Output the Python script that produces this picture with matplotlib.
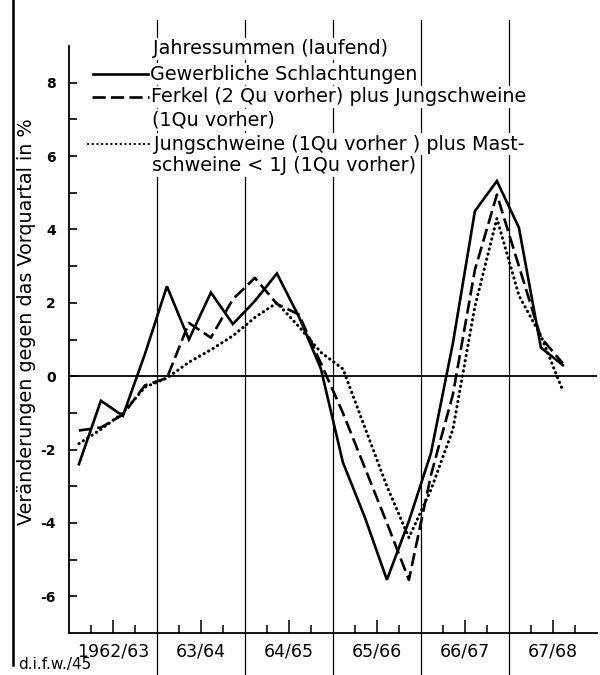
import numpy as np
import matplotlib
matplotlib.use("Agg")
import matplotlib.pyplot as plt
from matplotlib.lines import Line2D

# ---------------- data ----------------
season_labels = ["1962/63", "63/64", "64/65", "65/66", "66/67", "67/68"]
quarter_index = list(range(23))
gewerbliche = [-2.4, -0.67, -1.08, 0.6, 2.45, 1.0, 2.28, 1.42, 2.05, 2.8, 1.62, 0.2,
               -2.35, -3.85, -5.55, -3.95, -2.1, 0.9, 4.5, 5.32, 4.05, 0.78, 0.3]
ferkel = [-1.48, -1.4, -1.05, -0.25, -0.05, 1.45, 1.05, 2.1, 2.68, 1.97, 1.68, 0.35,
          -1.0, -2.5, -4.0, -5.55, -2.7, -0.5, 2.9, 4.95, 3.0, 1.05, 0.35]
jungschweine = [-1.84, -1.45, -1.0, -0.3, -0.05, 0.38, 0.72, 1.1, 1.6, 2.0, 1.35, 0.65,
                0.2, -1.4, -3.0, -4.4, -3.1, -1.45, 1.9, 4.3, 2.2, 1.1, -0.4]
y_tick_values = [-6, -4, -2, 0, 2, 4, 6, 8]
y_tick_labels = ["-6", "-4", "-2", "0", "2", "4", "6", "8"]

legend_title = "Jahressummen (laufend)"
legend_solid = "Gewerbliche Schlachtungen"
legend_dashed = ["Ferkel (2 Qu vorher) plus Jungschweine", "(1Qu vorher)"]
legend_dotted = ["Jungschweine (1Qu vorher ) plus Mast-", "schweine < 1J (1Qu vorher)"]
ylabel = "Veränderungen gegen das Vorquartal in %"
source = "d.i.f.w./45"

# ---------------- figure ----------------
W, H = 600, 675
plt.rcParams['font.family'] = ['DejaVu Sans']
fig = plt.figure(figsize=(W / 100, H / 100), dpi=100)
fig.patch.set_facecolor("white")

def fx(px):
    return px / W

def fy(py):
    return 1 - py / H

ax_left, ax_right, ax_top, ax_bottom = 69, 597, 46, 633
ax = fig.add_axes([fx(ax_left), fy(ax_bottom), fx(ax_right - ax_left), (ax_bottom - ax_top) / H])
ax.set_xlim(0, 24)
ax.set_ylim(-7, 9)
ax.set_facecolor("none")

for s in ["top", "right"]:
    ax.spines[s].set_visible(False)
for s in ["left", "bottom"]:
    ax.spines[s].set_linewidth(1.3)

# y ticks
ax.set_yticks(y_tick_values)
ax.set_yticklabels(y_tick_labels, fontsize=10, fontweight="bold")
ax.set_yticks(np.arange(-6, 9, 1), minor=True)
ax.tick_params(axis="y", which="both", direction="in", length=6, width=1.2, pad=9.5)

# x ticks: tall at mid-season, short at other quarters
year_centres = [4 * k + 2 for k in range(len(season_labels))]
ax.set_xticks(year_centres)
ax.set_xticklabels(season_labels, fontsize=12.5)
ax.set_xticks([4 * k + o for k in range(6) for o in (1, 3)], minor=True)
ax.tick_params(axis="x", which="major", direction="in", length=9.5, width=1.1, pad=7)
ax.tick_params(axis="x", which="minor", direction="in", length=6, width=1.1)

# season separator lines (extend beyond axes)
for k in range(1, 6):
    ax.plot([4 * k, 4 * k], [-0.075, 1.045], color="black", lw=0.9,
            transform=ax.get_xaxis_transform(), clip_on=False, zorder=1)

# zero line
ax.axhline(0, color="black", lw=1.3, zorder=2)

# series
xq = np.array(quarter_index) + 0.45
ax.plot(xq, gewerbliche, color="black", lw=1.9, solid_joinstyle="miter", zorder=4)
ax.plot(xq, ferkel, color="black", lw=1.9, linestyle=(0, (5, 2)), zorder=4)
ax.plot(xq, jungschweine, color="black", lw=2.2, linestyle=(0, (0.1, 1.6)),
        dash_capstyle="round", zorder=4)

# ---------------- legend (manual) ----------------
tkw = dict(fontsize=13.8, ha="left", va="center", zorder=5,
           bbox=dict(facecolor="white", edgecolor="none", pad=1.0))
rows = [49, 74, 97, 120, 144, 166]
fig.text(fx(153), fy(rows[0]), legend_title, **tkw)
fig.text(fx(150), fy(rows[1]), legend_solid, **tkw)
fig.text(fx(151), fy(rows[2]), legend_dashed[0], **tkw)
fig.text(fx(152), fy(rows[3]), legend_dashed[1], **tkw)
fig.text(fx(154), fy(rows[4]), legend_dotted[0], **tkw)
fig.text(fx(152), fy(rows[5]), legend_dotted[1], **tkw)

fig.add_artist(Line2D([fx(93), fx(148)], [fy(rows[1])] * 2, color="black", lw=1.9, zorder=6))
fig.add_artist(Line2D([fx(92), fx(149)], [fy(rows[2])] * 2, color="black", lw=1.9,
                      linestyle=(0, (5, 2)), zorder=6))
fig.add_artist(Line2D([fx(88), fx(152)], [fy(rows[4])] * 2, color="black", lw=1.6,
                      linestyle=(0, (0.1, 2.0)), dash_capstyle="round", zorder=6))

# y label
fig.text(fx(27), fy(322), ylabel, rotation=90, fontsize=13.8, ha="center", va="center")

# left page border
fig.add_artist(Line2D([fx(13), fx(13)], [fy(665), 1.0], color="black", lw=1.8))

# source note
fig.text(fx(18), fy(665), source, fontsize=11, ha="left", va="center")

fig.savefig("out.png", dpi=100, facecolor="white")
